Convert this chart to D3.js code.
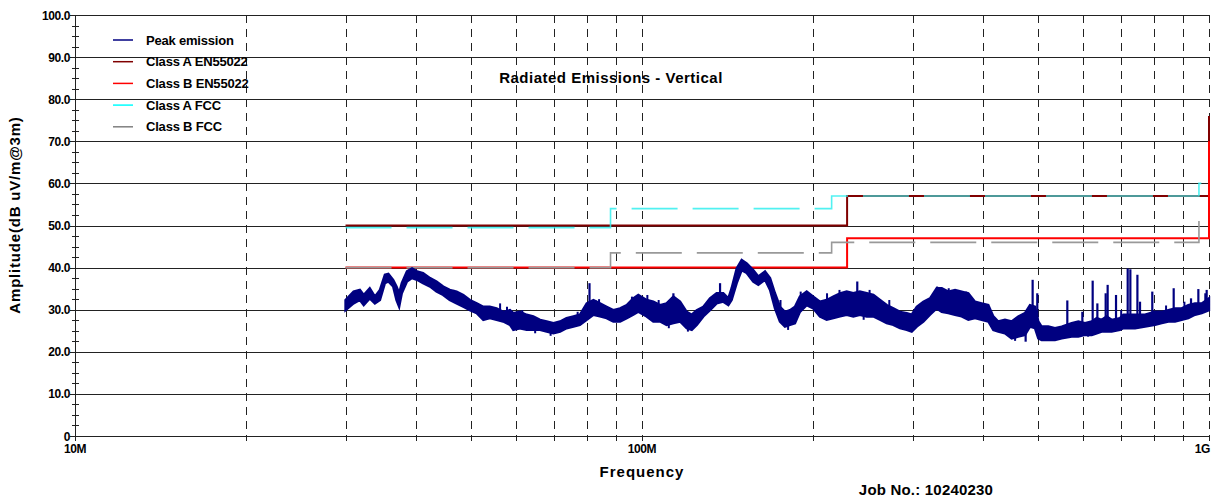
<!DOCTYPE html>
<html>
<head>
<meta charset="utf-8">
<script src="https://cdn.jsdelivr.net/npm/d3@7"></script>
<style>
  body { margin: 0; background: #fff; }
  svg { display: block; font-family: "Liberation Sans", Arial, sans-serif; font-weight: bold; }
</style>
</head>
<body>
<script>
// ---------------- data ----------------

// y axis ticks (dBuV/m) and x grid frequencies (MHz)
var yTicks = [0, 10, 20, 30, 40, 50, 60, 70, 80, 90, 100];
var yMinor = [2.5, 5, 7.5, 12.5, 15, 17.5, 22.5, 25, 27.5, 32.5, 35, 37.5, 42.5, 45, 47.5,
              52.5, 55, 57.5, 62.5, 65, 67.5, 72.5, 75, 77.5, 82.5, 85, 87.5, 92.5, 95, 97.5];
var xGrid = [20, 30, 40, 50, 60, 70, 80, 90, 100, 200, 300, 400, 500, 600, 700, 800, 900, 1000];
var xLabels = [[10, '10M'], [100, '100M'], [1000, '1G']];

// limit lines: breakpoints (step after)
var classAEnFreq = [30, 230, 1000];
var classAEnLevel = [50, 57, 76];
var classBEnFreq = [30, 230, 1000];
var classBEnLevel = [40, 47, 70];
var classAFccFreq = [30, 88, 216, 960, 1000];
var classAFccLevel = [49.5, 54, 57, 60, 60];
var classBFccFreq = [30, 88, 216, 960];
var classBFccLevel = [40, 43.5, 46, 52.5];

// peak emission envelope
var peakFreq = [30, 31, 31.8, 32.3, 33.1, 33.8, 34.5, 35.2, 35.7, 36.4,
  36.9, 37.3, 37.7, 38.5, 39.3, 40.1, 41.1, 42.3, 43.4, 44.6,
  45.8, 47.1, 48.4, 49.7, 51.1, 52.5, 53.9, 55.4, 56.9, 58.5,
  59.3, 60.9, 62.6, 64.3, 66.1, 67.9, 69.8, 71.7, 73.6, 75.7,
  77.7, 79.9, 82.1, 84.3, 86.6, 89.0, 91.5, 94.0, 96.5, 98.5,
  101.9, 104.7, 107.6, 110.5, 113.6, 116.7, 119.9, 122.4, 124.9, 128.3,
  131.8, 135.4, 139.1, 142.0, 143.9, 146.9, 149.9, 153.0, 157.1, 160.4,
  164.8, 168.2, 171.6, 175.1, 178.7, 182.4, 186.1, 189.9, 195.2, 200.5,
  206.0, 211.7, 217.5, 223.5, 229.6, 235.9, 242.3, 249.1, 255.9, 262.9,
  270.1, 277.5, 285.1, 293.0, 299.0, 305.2, 313.5, 322.1, 330.9,
  337.8, 346.9, 356.5, 366.3, 376.3, 386.6, 397.2, 408.1, 416.5, 425.0,
  436.7, 448.7, 460.9, 473.6, 483.3, 493.2, 500.0, 506.8, 520.7, 535.0,
  549.8, 572.6, 588.2, 604.4, 621.1, 633.8, 646.7, 659.9, 673.4, 696.6,
  706.2, 720.6, 740.6, 771.3, 803.1, 825.2, 847.8, 871.0, 895.0, 919.4,
  944.7, 971.0, 1000];
var peakHigh = [32.3, 34.3, 34.7, 33.5, 35.1, 33.1, 34.7, 38.3, 38.5, 37.1,
  35.5, 33.9, 36.3, 39.1, 39.8, 39.1, 38.7, 37.5, 36.7, 35.5,
  34.7, 34.3, 33.5, 32.3, 31.5, 30.7, 30.7, 30.3, 29.5, 29.9,
  29.2, 29.5, 28.8, 28.4, 27.6, 27.2, 26.8, 27.2, 28.0, 28.4,
  28.8, 31.5, 32.3, 31.5, 30.7, 29.9, 30.3, 31.1, 32.7, 33.5,
  32.3, 31.9, 31.1, 31.5, 33.1, 31.9, 29.5, 28.8, 29.9, 30.7,
  32.7, 33.9, 33.9, 32.7, 35.1, 39.8, 41.8, 41.0, 39.4, 37.9,
  39.1, 37.5, 33.9, 30.7, 29.5, 29.9, 30.7, 33.1, 34.3, 33.1,
  31.9, 32.3, 33.1, 33.9, 34.3, 33.9, 34.3, 33.9, 33.5, 32.3,
  31.1, 30.3, 29.5, 29.2, 28.8, 30.7, 31.9, 32.7, 35.1,
  35.1, 34.3, 34.7, 34.3, 33.9, 31.9, 31.5, 31.1, 28.4, 27.2,
  27.6, 27.2, 28.4, 29.2, 31.1, 30.7, 27.2, 26.0, 26.0, 25.6,
  26.0, 26.8, 27.2, 26.8, 27.2, 28.0, 27.6, 28.4, 27.6, 28.0,
  28.8, 28.8, 28.8, 28.8, 29.5, 29.5, 29.9, 30.3, 30.3, 31.1,
  31.5, 31.5, 32.7];
var peakLow = [29.9, 31.5, 32.3, 31.1, 32.7, 31.5, 32.3, 36.3, 36.7, 35.5,
  32.3, 30.7, 33.9, 36.7, 37.5, 37.1, 36.3, 35.5, 34.3, 33.5,
  32.3, 31.5, 30.7, 29.9, 29.2, 27.6, 28.0, 27.6, 27.2, 26.4,
  25.2, 25.6, 25.2, 25.2, 25.2, 24.8, 24.4, 24.8, 25.6, 26.0,
  26.4, 27.6, 28.8, 28.4, 28.0, 27.2, 27.2, 28.0, 28.8, 29.5,
  28.4, 27.2, 27.2, 26.4, 26.8, 27.2, 25.6, 25.2, 26.4, 28.4,
  29.9, 31.5, 31.9, 31.1, 32.3, 36.3, 39.4, 38.7, 36.7, 35.9,
  37.1, 34.7, 30.3, 27.2, 26.0, 26.4, 26.8, 29.5, 31.1, 30.3,
  28.4, 27.6, 28.0, 28.4, 28.8, 28.4, 28.8, 28.4, 28.4, 27.6,
  26.8, 26.4, 25.6, 25.2, 24.8, 26.0, 27.2, 28.8, 30.3,
  29.5, 29.2, 28.8, 28.4, 27.6, 28.0, 27.6, 27.2, 25.2, 24.8,
  24.4, 23.2, 23.6, 24.0, 26.0, 25.6, 23.2, 22.8, 22.8, 22.8,
  23.2, 23.6, 23.6, 24.0, 24.0, 24.4, 24.8, 24.8, 24.8, 25.2,
  25.6, 25.6, 25.6, 26.0, 26.4, 26.8, 27.2, 27.2, 27.6, 28.0,
  28.8, 29.2, 29.9];

// narrow spikes sticking out of the noise band
var spikeFreq = [80.8, 113.6, 137.3, 239.7, 474.9, 488.6, 497.9, 562.5, 597.9, 623.5,
  635.5, 657.3, 662.6, 685.5, 718.8, 726.6, 747.7, 755.7, 794.3, 866.4,
  929.6, 957.7, 990.6];
var spikeLevel = [36.3, 33.9, 36.3, 36.7, 22.4, 37.1, 33.9, 32.2, 29.5, 36.9,
  31.5, 33.9, 35.9, 33.5, 39.8, 39.6, 38.3, 31.9, 34.3, 35.1,
  32.7, 34.9, 34.7];

// smaller noise peaks / dips along the band edges
var noiseFreq = [46.5, 56.2, 57.8, 61.5, 64.8, 69.0, 77.0, 82.8, 84.0, 96.0,
  102.2, 107.0, 111.5, 116.0, 120.5, 175.5, 181.0, 190.5, 212.0, 223.0,
  246.0, 252.0, 273.0, 331.5, 347.5, 373.0, 455.0, 530.0, 612.0, 700.0,
  840.0, 905.0, 985.0];
var noiseLevel = [34.7, 31.5, 30.7, 29.9, 24.4, 23.8, 29.5, 32.3, 32.5, 33.1,
  33.5, 32.3, 25.6, 31.9, 24.8, 32.3, 25.2, 34.3, 33.9, 34.7,
  27.6, 34.7, 32.3, 35.5, 35.1, 34.3, 22.6, 23.4, 23.6, 29.9,
  31.0, 31.9, 33.9];

var legendNames = ['Peak emission', 'Class A EN55022', 'Class B EN55022', 'Class A FCC', 'Class B FCC'];
var legendColors = ['#000080', '#800000', '#ff0000', '#00ffff', '#808080'];

// ---------------- chart ----------------

var W = 1225, H = 497;
var svg = d3.select('body').append('svg').attr('width', W).attr('height', H);

var x = d3.scaleLog().domain([10, 1000]).range([75, 1209]);
var y = d3.scaleLinear().domain([0, 100]).range([436, 15]);

// horizontal grid
svg.append('g').selectAll('line').data(yTicks).join('line')
  .attr('x1', 70).attr('x2', x(1000))
  .attr('y1', d => Math.round(y(d)) + 0.5).attr('y2', d => Math.round(y(d)) + 0.5)
  .attr('stroke', '#222').attr('stroke-width', 1);

// vertical dashed grid
svg.append('g').selectAll('line').data(xGrid).join('line')
  .attr('x1', d => Math.round(x(d)) + 0.5).attr('x2', d => Math.round(x(d)) + 0.5)
  .attr('y1', y(100)).attr('y2', y(0))
  .attr('stroke', '#222').attr('stroke-width', 1).attr('stroke-dasharray', '8,6');

// x ticks below axis
svg.append('g').selectAll('line').data([10].concat(xGrid)).join('line')
  .attr('x1', d => Math.round(x(d)) + 0.5).attr('x2', d => Math.round(x(d)) + 0.5)
  .attr('y1', y(0)).attr('y2', y(0) + 5)
  .attr('stroke', '#222');

// y axis + minor ticks
svg.append('line').attr('x1', 75.5).attr('x2', 75.5).attr('y1', y(100)).attr('y2', y(0) + 4)
  .attr('stroke', '#222');
svg.append('g').selectAll('line').data(yMinor).join('line')
  .attr('x1', 72).attr('x2', 79)
  .attr('y1', d => Math.round(y(d)) + 0.5).attr('y2', d => Math.round(y(d)) + 0.5)
  .attr('stroke', '#222');

// tick labels
svg.append('g').selectAll('text').data(yTicks).join('text')
  .attr('x', 70).attr('y', d => y(d) + 4.5)
  .attr('text-anchor', 'end').attr('font-size', 12).attr('letter-spacing', -0.4)
  .text(d => d === 0 ? '0' : d.toFixed(1));
svg.append('g').selectAll('text').data(xLabels).join('text')
  .attr('x', d => x(d[0]) + (d[0] === 1000 ? 1 : 0)).attr('y', 453)
  .attr('text-anchor', d => d[0] === 1000 ? 'end' : 'middle')
  .attr('font-size', 12).attr('letter-spacing', -0.4)
  .text(d => d[1]);

// limit lines
function stepLine(fr, lv) {
  return d3.line().curve(d3.curveStepAfter).x(d => x(d)).y((d, i) => y(lv[i]))(fr);
}
svg.append('path').attr('d', stepLine(classAEnFreq, classAEnLevel))
  .attr('fill', 'none').attr('stroke', '#800000').attr('stroke-width', 2);
svg.append('path').attr('d', stepLine(classBEnFreq, classBEnLevel))
  .attr('fill', 'none').attr('stroke', '#ff0000').attr('stroke-width', 2);
svg.append('path').attr('d', stepLine(classBFccFreq, classBFccLevel))
  .attr('fill', 'none').attr('stroke', '#999').attr('stroke-width', 1.6)
  .attr('stroke-dasharray', '46,15');
svg.append('path').attr('d', stepLine(classAFccFreq, classAFccLevel))
  .attr('fill', 'none').attr('stroke', '#33eeee').attr('stroke-width', 1.6)
  .attr('stroke-opacity', 0.85).attr('stroke-dasharray', '46,15');

// peak emission band
var band = d3.area()
  .x((d, i) => x(d))
  .y0((d, i) => y(peakLow[i]))
  .y1((d, i) => y(peakHigh[i]));
svg.append('path').attr('d', band(peakFreq))
  .attr('fill', '#000080').attr('stroke', '#000080').attr('stroke-width', 2.4)
  .attr('stroke-linejoin', 'miter');

var bis = d3.bisector(d => d).left;
function bandMid(f) {
  var k = Math.min(bis(peakFreq, f), peakFreq.length - 1);
  return (peakHigh[k] + peakLow[k]) / 2;
}
svg.append('g').selectAll('line').data(noiseFreq).join('line')
  .attr('x1', d => x(d)).attr('x2', d => x(d))
  .attr('y1', (d, i) => y(noiseLevel[i]))
  .attr('y2', d => y(bandMid(d)))
  .attr('stroke', '#000080').attr('stroke-width', 2);
svg.append('g').selectAll('line').data(spikeFreq).join('line')
  .attr('x1', d => x(d)).attr('x2', d => x(d))
  .attr('y1', (d, i) => y(spikeLevel[i]))
  .attr('y2', d => y(bandMid(d)))
  .attr('stroke', '#000080').attr('stroke-width', 2.2);

// legend
var leg = svg.append('g');
legendNames.forEach(function (name, i) {
  var ly = 40 + i * 21.7;
  leg.append('line').attr('x1', 113).attr('x2', 133).attr('y1', ly).attr('y2', ly)
    .attr('stroke', legendColors[i]).attr('stroke-width', 1.5);
  leg.append('text').attr('x', 146).attr('y', ly + 4.5).attr('font-size', 13)
    .attr('letter-spacing', -0.2).text(name);
});

// titles
svg.append('text').attr('x', 611).attr('y', 83).attr('text-anchor', 'middle')
  .attr('font-size', 15).attr('letter-spacing', 0.5).text('Radiated Emissions - Vertical');
svg.append('text').attr('x', 642).attr('y', 477).attr('text-anchor', 'middle')
  .attr('font-size', 15).attr('letter-spacing', 1).text('Frequency');
svg.append('text').attr('transform', 'translate(20,215) rotate(-90)').attr('text-anchor', 'middle')
  .attr('font-size', 15).attr('letter-spacing', 0.8).text('Amplitude(dB uV/m@3m)');
svg.append('text').attr('x', 926).attr('y', 495).attr('text-anchor', 'middle')
  .attr('font-size', 15).attr('letter-spacing', 0.2).text('Job No.: 10240230');
</script>
</body>
</html>
